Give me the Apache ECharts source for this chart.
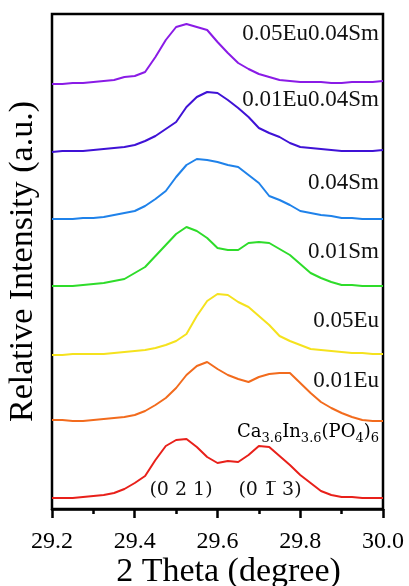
<!DOCTYPE html>
<html><head><meta charset="utf-8">
<script src="https://cdn.jsdelivr.net/npm/echarts@6/dist/echarts.min.js"></script>
<style>html,body{margin:0;padding:0;background:#fff}#c{width:409px;height:586px}</style>
</head><body><div id="c"></div>
<script>
// 2 Theta grid (degree)
const theta = [29.200,29.225,29.250,29.275,29.300,29.325,29.350,29.375,29.400,29.425,29.450,29.475,29.500,29.525,29.550,29.575,29.600,29.625,29.650,29.675,29.700,29.725,29.750,29.775,29.800,29.825,29.850,29.875,29.900,29.925,29.950,29.975,30.000];
// Relative intensities (a.u.), stacked offsets as in the figure
const host       = [11,11,11,12,13,14,16,20,26,33,49,63,69,70,62,52,46,48,47,54,63,62,53,44,34,26,18,14,12,12,11,11,11];
const eu001      = [89,89,88,88,89,90,91,92,94,98,104,111,121,134,143,147,140,134,130,127,132,135,136,136,126,116,107,101,96,92,89,88,88];
const eu005      = [154,154,155,155,155,155,156,157,158,159,161,164,168,175,193,208,215,214,207,202,193,184,173,168,164,160,159,158,157,156,156,155,155];
const sm001      = [223,223,223,224,225,226,228,230,236,242,253,264,275,282,278,271,261,259,259,266,267,266,260,254,245,236,231,227,224,224,223,223,223];
const sm004      = [290,290,290,291,291,292,294,296,298,303,310,318,332,344,350,349,347,344,342,334,326,313,309,304,298,296,294,293,291,291,290,290,290];
const eu001sm004 = [357,358,358,358,359,360,361,362,364,368,373,380,387,402,412,417,416,409,401,392,381,376,372,366,362,361,360,359,358,358,358,358,359];
const eu005sm004 = [425,425,426,426,427,428,429,432,433,437,452,469,482,485,482,479,467,456,446,440,435,432,429,428,427,427,427,426,426,427,427,427,428];

const seriesNames = ['Ca3.6In3.6(PO4)6','0.01Eu','0.05Eu','0.01Sm','0.04Sm','0.01Eu0.04Sm','0.05Eu0.04Sm'];
const seriesData = [host, eu001, eu005, sm001, sm004, eu001sm004, eu005sm004];
const seriesColors = ['#E8201A','#F26B1D','#F5E21E','#2EDC2A','#1F82EA','#3F12D6','#8A1BE6'];
const labelTexts = ['0.05Eu0.04Sm','0.01Eu0.04Sm','0.04Sm','0.01Sm','0.05Eu','0.01Eu'];
const labelY = [34,100,183,252,321,381];
const peakLabels = ['(0 2 1)','(0 1\u0305 3)'];
const xTickLabels = ['29.2','29.4','29.6','29.8','30.0'];

const chart = echarts.init(document.getElementById('c'), null, {renderer:'canvas'});
const series = seriesData.map((d,i)=>({
  name: seriesNames[i], type:'line', data: d.map((v,j)=>[theta[j], v]),
  showSymbol:false, symbol:'none', smooth:false,
  lineStyle:{color:seriesColors[i], width:2}, itemStyle:{color:seriesColors[i]},
  animation:false, z: 3
}));

const graphics = labelTexts.map((t,i)=>({
  type:'text', z:10,
  style:{text:t, x:379, y:labelY[i], textAlign:'right', textVerticalAlign:'middle',
    fontSize:23, fontFamily:'Liberation Serif', fill:'#111'}
}));
graphics.push({
  type:'text', z:10,
  style:{
    text:'{m|Ca}{s|3.6}{m|In}{s|3.6}{m|(PO}{s|4}{m|)}{s|6}',
    x:379, y:423, textAlign:'right', textVerticalAlign:'top',
    rich:{
      m:{fontSize:18, fontFamily:'DejaVu Serif', color:'#111', verticalAlign:'top', lineHeight:20},
      s:{fontSize:13, fontFamily:'DejaVu Serif', color:'#111', verticalAlign:'top', lineHeight:20, padding:[9,0,0,0]}
    }
  }
});
graphics.push({type:'text', z:10, style:{text:peakLabels[0], x:181, y:490, textAlign:'center', textVerticalAlign:'middle', fontSize:19, fontFamily:'DejaVu Serif', fill:'#111'}});
graphics.push({type:'text', z:10, style:{text:peakLabels[1], x:270, y:490, textAlign:'center', textVerticalAlign:'middle', fontSize:19, fontFamily:'DejaVu Serif', fill:'#111'}});

chart.setOption({
  animation:false,
  backgroundColor:'#fff',
  grid:{left:52, right:26, top:14, bottom:77, show:true, borderColor:'#000', borderWidth:2.5, containLabel:false, outerBoundsMode:'none'},
  xAxis:{
    type:'value', min:29.2, max:30.0, interval:0.2,
    name:'2 Theta (degree)', nameLocation:'middle', nameGap:46, nameMoveOverlap:false,
    nameTextStyle:{fontFamily:'Liberation Serif', fontSize:34, color:'#000', padding:[0,0,0,22]},
    axisLine:{show:true, onZero:false, lineStyle:{color:'#000', width:2.5}},
    axisTick:{show:true, inside:false, length:9, lineStyle:{color:'#000', width:2.5}},
    minorTick:{show:true, splitNumber:2, length:5, lineStyle:{color:'#000', width:2.5}},
    splitLine:{show:false},
    axisLabel:{fontFamily:'Liberation Serif', fontSize:24, color:'#000', margin:21,
      formatter:(v)=>{const s=v.toFixed(1); return xTickLabels.includes(s)?s:'';}}
  },
  yAxis:{
    type:'value', min:0, max:495,
    name:'Relative Intensity (a.u.)', nameLocation:'middle', nameGap:12, nameMoveOverlap:false,
    nameTextStyle:{fontFamily:'Liberation Serif', fontSize:34, color:'#000'},
    axisLine:{show:false}, axisTick:{show:false}, axisLabel:{show:false}, splitLine:{show:false}
  },
  series: series,
  graphic: graphics
});
</script></body></html>
